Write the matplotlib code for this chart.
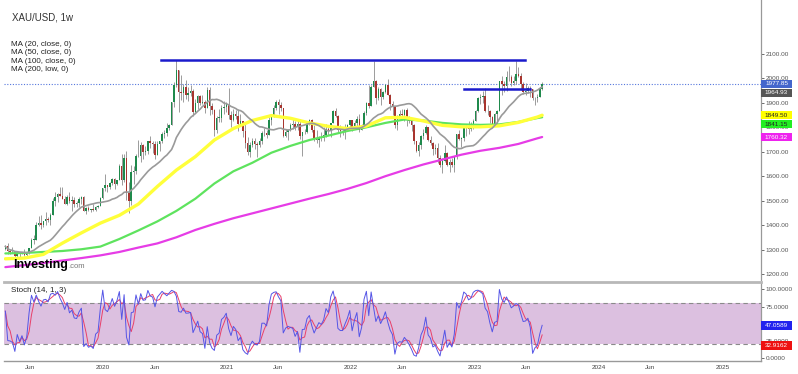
import matplotlib
matplotlib.use("Agg")
import matplotlib.pyplot as plt
import matplotlib.dates as mdates
from matplotlib.transforms import IdentityTransform
from matplotlib.patches import Rectangle
import numpy as np
import pandas as pd

plt.rcParams['font.family'] = ['Liberation Sans', 'DejaVu Sans']

# ------------------------------------------------------------------ data
title = "XAU/USD, 1w"
ma_names = ["MA (20, close, 0)", "MA (50, close, 0)", "MA (100, close, 0)", "MA (200, low, 0)"]
stoch_name = "Stoch (14, 1, 3)"
first_week = "2019-03-19"
first_open = 1302

closes = [
    # 2019
    1313, 1292, 1291, 1290, 1275, 1286, 1280, 1285, 1277, 1284, 1305, 1341, 1341, 1399, 1409, 1399,
    1415, 1426, 1419, 1440, 1497, 1513, 1527, 1520, 1507, 1488, 1516, 1497, 1504, 1488, 1490, 1505,
    1514, 1459, 1468, 1462, 1464, 1460, 1476, 1479, 1510,
    # 2020
    1552, 1562, 1557, 1571, 1589, 1570, 1584, 1643, 1585, 1674, 1530, 1498, 1617, 1620, 1683, 1683,
    1729, 1700, 1702, 1743, 1735, 1730, 1685, 1730, 1743, 1771, 1775, 1799, 1810, 1902, 1975, 2035,
    1944, 1940, 1964, 1934, 1940, 1950, 1861, 1899, 1930, 1899, 1902, 1879, 1951, 1889, 1871, 1788,
    1839, 1839, 1881, 1883,
    # 2021
    1895, 1850, 1829, 1856, 1847, 1814, 1824, 1784, 1734, 1700, 1727, 1745, 1733, 1729, 1744, 1777,
    1777, 1769, 1831, 1843, 1881, 1905, 1891, 1877, 1764, 1781, 1787, 1808, 1812, 1802, 1814, 1763,
    1780, 1781, 1817, 1828, 1787, 1754, 1750, 1761, 1757, 1767, 1792, 1783, 1818, 1865, 1846, 1788,
    1783, 1783, 1798, 1811, 1829,
    # 2022
    1797, 1818, 1835, 1791, 1808, 1859, 1898, 1889, 1966, 1988, 1921, 1958, 1925, 1946, 1975, 1931,
    1897, 1883, 1811, 1846, 1853, 1851, 1871, 1840, 1827, 1811, 1742, 1703, 1727, 1766, 1775, 1802,
    1747, 1737, 1712, 1717, 1675, 1644, 1661, 1695, 1644, 1657, 1645, 1681, 1771, 1751, 1755, 1797,
    1797, 1793, 1798, 1824,
    # 2023
    1865, 1920, 1926, 1928, 1865, 1865, 1842, 1811, 1855, 1868, 1989, 1978, 1969, 2007, 2004, 1983,
    1990, 2017, 2011, 1977, 1946, 1948, 1961, 1958, 1921, 1919, 1925, 1955, 1977.85,
]
highs = [
    1320, 1325, 1301, 1310, 1295, 1288, 1289, 1290, 1304, 1290, 1306, 1348, 1358, 1411, 1439, 1442,
    1418, 1453, 1433, 1449, 1510, 1535, 1531, 1555, 1557, 1517, 1524, 1535, 1519, 1516, 1499, 1516,
    1518, 1517, 1475, 1478, 1466, 1485, 1479, 1482, 1514,
    1553, 1611, 1564, 1575, 1591, 1591, 1585, 1649, 1689, 1692, 1703, 1575, 1645, 1643, 1690, 1747,
    1738, 1731, 1722, 1743, 1765, 1745, 1745, 1745, 1746, 1779, 1789, 1818, 1815, 1905, 1984, 2075,
    2015, 2015, 1977, 1992, 1966, 1973, 1955, 1917, 1933, 1933, 1932, 1910, 1965, 1965, 1900, 1875,
    1848, 1875, 1890, 1906,
    1902, 1959, 1868, 1875, 1872, 1875, 1855, 1824, 1817, 1760, 1739, 1755, 1755, 1740, 1758, 1785,
    1797, 1789, 1843, 1845, 1890, 1913, 1917, 1903, 1878, 1795, 1795, 1818, 1834, 1825, 1832, 1832,
    1780, 1795, 1820, 1834, 1834, 1808, 1787, 1765, 1781, 1800, 1814, 1810, 1818, 1869, 1877, 1849,
    1808, 1793, 1815, 1815, 1831,
    1831, 1830, 1848, 1853, 1814, 1865, 1902, 1974, 1974, 2070, 1993, 1966, 1960, 1950, 1978, 1998,
    1936, 1909, 1885, 1849, 1869, 1874, 1875, 1879, 1847, 1831, 1814, 1745, 1739, 1767, 1795, 1808,
    1802, 1765, 1740, 1730, 1735, 1688, 1675, 1729, 1697, 1669, 1675, 1682, 1772, 1787, 1762, 1804,
    1810, 1825, 1823, 1833,
    1869, 1923, 1937, 1949, 1959, 1891, 1870, 1846, 1858, 1870, 1989, 2010, 1990, 2032, 2049, 2015,
    2009, 2072, 2048, 2022, 1985, 1983, 1970, 1971, 1958, 1925, 1935, 1963, 1984,
]
lows = [
    1298, 1281, 1280, 1285, 1270, 1266, 1266, 1280, 1275, 1273, 1281, 1306, 1322, 1340, 1398, 1382,
    1392, 1401, 1412, 1400, 1443, 1480, 1493, 1517, 1505, 1485, 1484, 1492, 1459, 1474, 1475, 1476,
    1487, 1456, 1445, 1456, 1452, 1458, 1456, 1471, 1477,
    1508, 1540, 1536, 1546, 1564, 1548, 1562, 1583, 1565, 1575, 1504, 1451, 1482, 1567, 1611, 1677,
    1660, 1670, 1688, 1692, 1717, 1693, 1670, 1693, 1703, 1737, 1757, 1763, 1791, 1808, 1882, 1964,
    1863, 1911, 1902, 1916, 1906, 1929, 1848, 1860, 1873, 1891, 1894, 1859, 1877, 1850, 1854, 1764,
    1775, 1820, 1823, 1855,
    1863, 1836, 1803, 1827, 1832, 1785, 1809, 1761, 1717, 1687, 1677, 1718, 1712, 1677, 1721, 1733,
    1764, 1756, 1769, 1808, 1843, 1869, 1855, 1866, 1761, 1761, 1750, 1784, 1792, 1789, 1790, 1753,
    1684, 1772, 1777, 1808, 1782, 1745, 1737, 1721, 1746, 1745, 1760, 1770, 1759, 1817, 1843, 1778,
    1762, 1770, 1753, 1785, 1790,
    1783, 1792, 1805, 1780, 1788, 1806, 1850, 1878, 1889, 1966, 1895, 1910, 1890, 1915, 1940, 1931,
    1872, 1850, 1797, 1787, 1840, 1828, 1825, 1805, 1816, 1785, 1732, 1697, 1681, 1711, 1754, 1773,
    1745, 1727, 1688, 1691, 1654, 1639, 1615, 1660, 1641, 1617, 1638, 1616, 1671, 1747, 1721, 1743,
    1765, 1774, 1785, 1795,
    1824, 1863, 1896, 1900, 1861, 1852, 1818, 1805, 1804, 1809, 1867, 1934, 1945, 1950, 1991, 1970,
    1974, 1976, 2005, 1952, 1937, 1932, 1939, 1925, 1911, 1893, 1902, 1923, 1952,
]

# moving averages every 8 weeks (and at the last week)
ma_step = 8
ma50 = [1262, 1265, 1280, 1326, 1368, 1408, 1440, 1486, 1558, 1625, 1680, 1748, 1795, 1828, 1848,
        1837, 1818, 1804, 1795, 1805, 1839, 1841, 1826, 1808, 1802, 1802, 1806, 1820, 1842, 1849.5]
ma100 = [1284, 1286, 1290, 1294, 1301, 1312, 1343, 1378, 1415, 1458, 1508, 1570, 1620, 1655, 1696,
         1724, 1748, 1766, 1785, 1800, 1818, 1832, 1828, 1818, 1812, 1810, 1812, 1822, 1838, 1841.15]
ma200 = [1228, 1236, 1245, 1255, 1265, 1276, 1290, 1308, 1325, 1350, 1380, 1405, 1428, 1448, 1468,
         1488, 1508, 1527, 1548, 1572, 1600, 1625, 1648, 1668, 1688, 1704, 1716, 1732, 1755, 1760.32]

resist_levels = [2075, 1956]
resist_starts = ["2020-06-19", "2022-11-29"]
resist_ends = ["2023-05-29", "2023-06-13"]

price_ticks = [1200, 1300, 1400, 1500, 1600, 1700, 1800, 1900, 2000, 2100]
stoch_ticks = [0, 25, 75, 100]
stoch_bands = [20, 80]
xtick_dates = ["2019-06-01", "2020-01-01", "2020-06-01", "2021-01-01", "2021-06-01", "2022-01-01",
               "2022-06-01", "2023-01-01", "2023-06-01", "2024-01-01", "2024-06-01", "2025-01-01"]
xtick_labels = ["Jun", "2020", "Jun", "2021", "Jun", "2022", "Jun", "2023", "Jun", "2024", "Jun", "2025"]

main_labels = ["1977.85", "1964.93", "1849.50", "1841.15", "1760.32"]
main_label_fc = ["#4466cc", "#555555", "#ffff00", "#22ee22", "#ee22ee"]
main_label_tc = ["white", "white", "#222222", "#222222", "white"]
stoch_labels = ["47.0589", "32.9162"]
stoch_label_fc = ["#2222ee", "#ee1111"]

# ------------------------------------------------------------------ derived
n = len(closes)
dates = pd.date_range(first_week, periods=n, freq="7D")
c = np.array(closes, float)
o = np.concatenate([[first_open], c[:-1]])
h = np.maximum(np.array(highs, float), np.maximum(o, c))
l = np.minimum(np.array(lows, float), np.minimum(o, c))
ma20 = pd.Series(c).rolling(20, min_periods=1).mean().values
ma_idx = list(range(0, n, ma_step)) + [n - 1]
ma_dates = dates[ma_idx]

hh = pd.Series(h).rolling(14, min_periods=1).max()
ll = pd.Series(l).rolling(14, min_periods=1).min()
k_line = (100 * (pd.Series(c) - ll) / (hh - ll)).values
d_line = pd.Series(k_line).rolling(3, min_periods=1).mean().values

# ------------------------------------------------------------------ figure
W, H = 798, 374
fig = plt.figure(figsize=(W / 100, H / 100), dpi=100)
fig.patch.set_facecolor("white")


def rect(x0, y0, x1, y1):
    return [x0 / W, 1 - y1 / H, (x1 - x0) / W, (y1 - y0) / H]


ax = fig.add_axes(rect(4, 0, 761, 280))
ax2 = fig.add_axes(rect(4, 282, 761, 361), sharex=ax)
xlim = (mdates.date2num(pd.Timestamp("2019-03-15")), mdates.date2num(pd.Timestamp("2025-04-23")))
ax.set_xlim(*xlim)
ax.set_ylim(1175.3, 2320.9)
ax2.set_ylim(-5, 111)

# candles
up = c >= o
colors = np.where(up, "#1f8a4c", "#a8352f")
ax.vlines(dates, l, h, color="#8c8c8c", lw=0.6, zorder=2)
body_h = np.maximum(np.abs(c - o), 1.5)
ax.bar(dates, body_h, bottom=np.minimum(o, c), width=4.4, color=colors, lw=0, zorder=3)

# moving averages
ax.plot(ma_dates, ma200, color="#e63ce6", lw=1.6, zorder=4, solid_capstyle="round")
ax.plot(ma_dates, ma100, color="#5ee35e", lw=1.6, zorder=4, solid_capstyle="round")
ax.plot(ma_dates, ma50, color="#ffff3a", lw=2.4, zorder=4, solid_capstyle="round")
ax.plot(dates, ma20, color="#9a9a9a", lw=1.2, zorder=5)

# resistance lines and last price line
for lev, s, e in zip(resist_levels, resist_starts, resist_ends):
    ax.plot([pd.Timestamp(s), pd.Timestamp(e)], [lev, lev], color="#1a1acc", lw=1.8, zorder=6)
ax.axhline(float(main_labels[0]), color="#5577dd", lw=0.8, ls=(0, (1, 1.5)), zorder=1)

# stochastic
ax2.axhspan(stoch_bands[0], stoch_bands[1], color="#dcc0e0", lw=0, zorder=0)
for b in stoch_bands:
    ax2.axhline(b, color="#8a8a8a", lw=0.8, ls=(0, (4, 3)), zorder=1)
ax2.plot(dates, d_line, color="#e8406a", lw=0.7, zorder=3)
ax2.plot(dates, k_line, color="#5555e6", lw=0.7, zorder=4)

# axes styling
for a in (ax, ax2):
    a.set_facecolor("none")
    a.spines["left"].set_visible(False)
    a.spines["right"].set_color("#999999")
    a.spines["right"].set_linewidth(0.9)
    a.yaxis.tick_right()
    a.tick_params(axis="y", direction="out", length=2, width=0.6, pad=1.5,
                  labelsize=4.6, colors="#555555")
ax.spines["top"].set_visible(False)
ax.spines["bottom"].set_visible(False)
ax.tick_params(axis="x", which="both", bottom=False, labelbottom=False)
ax.set_yticks(price_ticks)
ax.set_yticklabels([f"{t:.2f}" for t in price_ticks])

ax2.spines["top"].set_color("#b8b8b8")
ax2.spines["top"].set_linewidth(2)
ax2.spines["bottom"].set_color("#999999")
ax2.spines["bottom"].set_linewidth(1)
ax2.set_yticks(stoch_ticks)
ax2.set_yticklabels([f"{t:.4f}" for t in stoch_ticks])
ax2.set_xticks([pd.Timestamp(d) for d in xtick_dates])
ax2.set_xticklabels(xtick_labels)
ax2.tick_params(axis="x", length=0, pad=3, labelsize=4.6, labelcolor="#444444")


def ftext(x, y, s, **kw):
    return fig.text(x / W, 1 - y / H, s, **kw)


ftext(12, 17, title, fontsize=7, color="#333333", va="center", ha="left")
for i, name in enumerate(ma_names):
    ftext(11, 44 + i * 8.6, name, fontsize=5.8, color="#222222", va="center", ha="left")
ftext(11, 291, stoch_name, fontsize=5.8, color="#222222", va="center", ha="left")
ftext(13, 268, "Investing", fontsize=9, fontweight="bold", color="black", va="baseline", ha="left")
ftext(68.5, 268, ".com", fontsize=5.5, color="#777777", va="baseline", ha="left")


def value_boxes(axis, texts, fcs, tcs, gap, ofs=0.0):
    ys = []
    for t in texts:
        ys.append(axis.transData.transform((xlim[0], float(t)))[1])
    order = np.argsort([-float(t) for t in texts])
    prev = None
    for j in order:
        y = ys[j]
        if prev is not None:
            y = min(y, prev - gap)
        prev = y
        fig.add_artist(Rectangle((761, y - 4.2), 31, 8.4, transform=IdentityTransform(),
                                 fc=fcs[j], ec="none", zorder=10))
        fig.text(776.5, y, texts[j], transform=IdentityTransform(), fontsize=4.6,
                 color=tcs[j], ha="center", va="center", zorder=11)


value_boxes(ax, main_labels, main_label_fc, main_label_tc, 9)
value_boxes(ax2, stoch_labels, stoch_label_fc, ["white", "white"], 20)

fig.savefig("out.png", dpi=100, facecolor="white")
